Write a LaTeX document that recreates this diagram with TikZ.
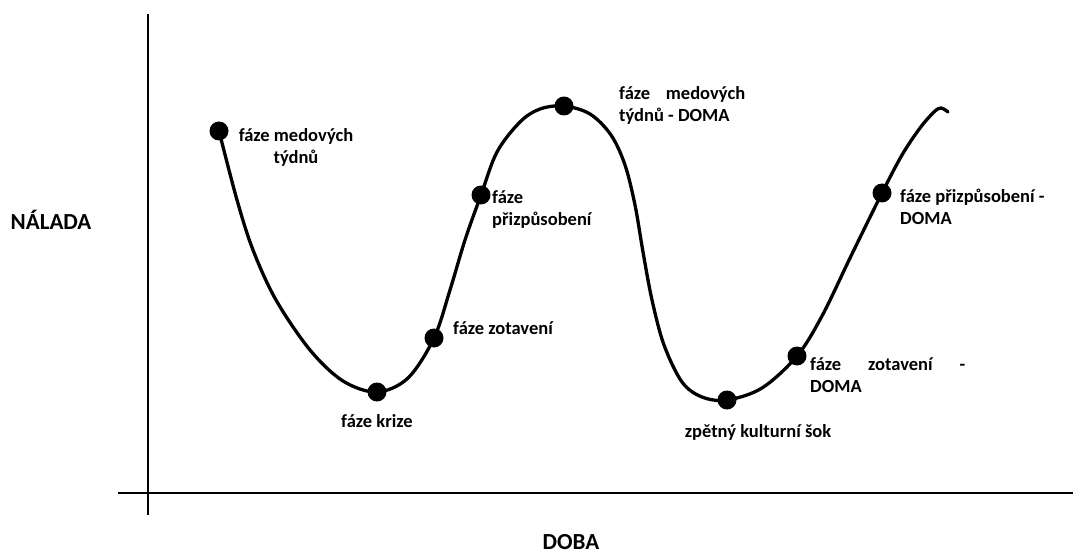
\documentclass[tikz,border=0pt]{standalone}
\usepackage{fontspec}
\setmainfont{Carlito}
\begin{document}
\begin{tikzpicture}[x=1pt,y=-1pt,
  dot/.style={circle,fill=black,inner sep=0pt,minimum size=19pt},
  lbl/.style={font=\fontsize{18.5}{22}\selectfont\bfseries,inner sep=0pt},
  axlbl/.style={font=\fontsize{23}{26}\selectfont\bfseries,inner sep=0pt},
  axis/.style={line width=2.8pt},
  curve/.style={line width=3.3pt,line cap=round}]
\useasboundingbox (0,0) rectangle (1073,556);
% axes
\coordinate (yt) at (148,14);
\coordinate (yb) at (148,515);
\coordinate (xl) at (118,493);
\coordinate (xr) at (1073,493);
\draw[axis] (yt) -- (yb);
\draw[axis] (xl) -- (xr);
% key points
\coordinate (p1) at (219,131);
\coordinate (p2) at (377,392);
\coordinate (p3) at (434,338);
\coordinate (p4) at (481,195);
\coordinate (p5) at (564,106);
\coordinate (p6) at (727,400);
\coordinate (p7) at (797,356);
\coordinate (p8) at (882,193);
\coordinate (pe) at (948,112);
\draw[curve] plot[smooth,tension=0.55] coordinates {
  (p1) (237,200) (253,250) (276,300) (310,350) (343,381) (p2)
  (408,378) (p3) (450,290) (465,240) (p4) (497,152) (520,122) (540,109) (p5)
  (590,114) (611,135) (625,165) (635,205) (643,252) (652,300) (664,345) (682,382) (702,397) (p6)
  (762,388) (p7) (822,316) (851,256) (p8) (902,155) (920,128) (934,112) (941,108) (pe)};
% dots
\node[dot] (d1) at (p1) {};
\node[dot] (d2) at (p2) {};
\node[dot] (d3) at (p3) {};
\node[dot] (d4) at (p4) {};
\node[dot] (d5) at (p5) {};
\node[dot] (d6) at (p6) {};
\node[dot] (d7) at (p7) {};
\node[dot] (d8) at (p8) {};
% labels
\node[lbl,anchor=north,align=center] (l1) at (296,128) {fáze medových\\týdnů};
\node[lbl,anchor=north west,align=left] (l2) at (619,86) {\makebox[126pt][s]{fáze\hfill medových}\\týdnů - DOMA};
\node[lbl,anchor=north west,align=left] (l3) at (492,190) {fáze\\přizpůsobení};
\node[lbl,anchor=west] (l4) at (453,328) {fáze zotavení};
\node[lbl] (l5) at (377,421) {fáze krize};
\node[lbl] (l6) at (758,432) {zpětný kulturní šok};
\node[lbl,anchor=north west,align=left] (l7) at (810,357) {\makebox[155pt][s]{fáze\hfill zotavení\hfill -}\\DOMA};
\node[lbl,anchor=north west,align=left] (l8) at (900,189) {fáze přizpůsobení -\\DOMA};
\node[axlbl] (ny) at (51,220) {NÁLADA};
\node[axlbl] (nx) at (571,542) {DOBA};
\end{tikzpicture}
\end{document}
